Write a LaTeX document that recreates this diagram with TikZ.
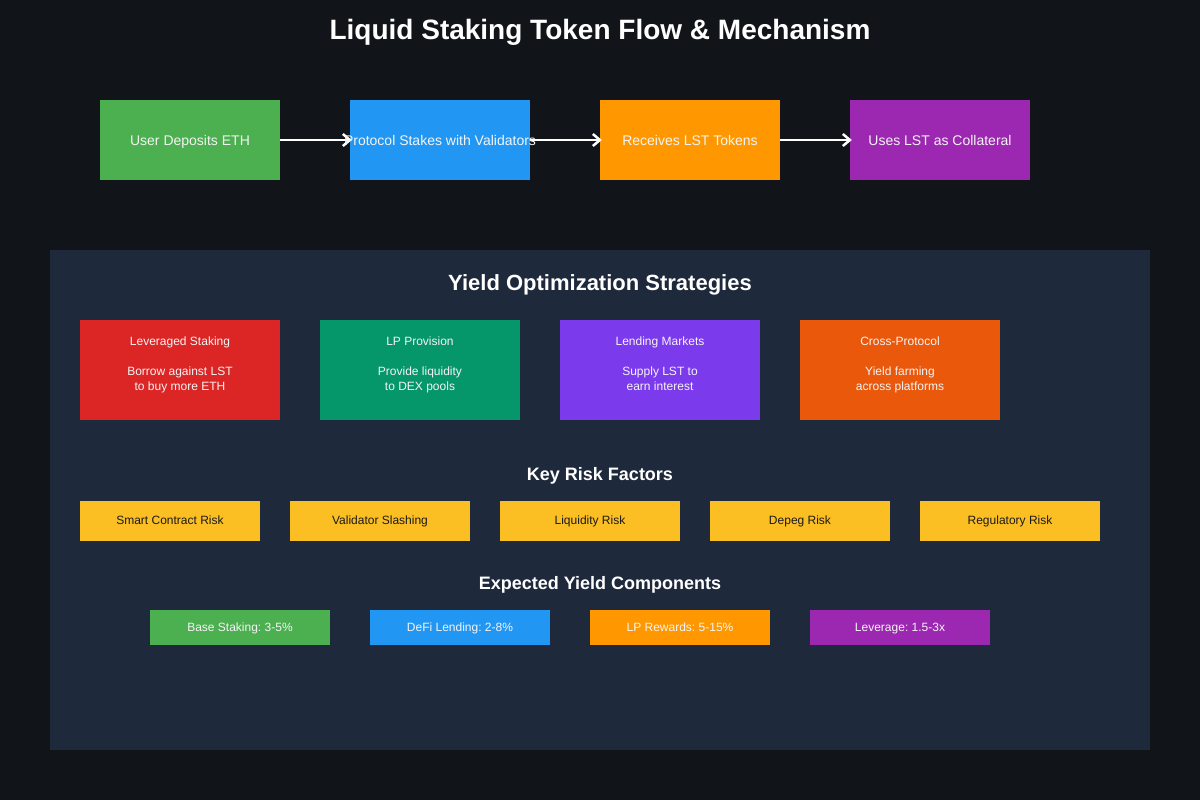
\documentclass[tikz,border=0pt]{standalone}
\usepackage{fontspec}
\setmainfont{Liberation Sans}
\usetikzlibrary{arrows.meta}
\frenchspacing
\definecolor{bgc}{HTML}{111418}
\definecolor{panelc}{HTML}{1E293B}
\definecolor{cgreen}{HTML}{4CAF50}
\definecolor{cblue}{HTML}{2196F3}
\definecolor{corange}{HTML}{FF9800}
\definecolor{cpurple}{HTML}{9C27B0}
\definecolor{sred}{HTML}{DC2626}
\definecolor{sgreen}{HTML}{059669}
\definecolor{spurple}{HTML}{7C3AED}
\definecolor{sorange}{HTML}{EA580C}
\definecolor{ryellow}{HTML}{FBBF24}
\definecolor{rtext}{HTML}{1A1A1A}
\definecolor{wtext}{HTML}{F4F4F4}
\tikzset{
  flowbox/.style={draw=none, minimum width=180pt, minimum height=80pt, inner sep=0pt, text=wtext, text height=10pt, text depth=0pt, font=\fontsize{14}{17}\selectfont},
  stratbox/.style={draw=none, minimum width=200pt, minimum height=100pt, inner sep=0pt},
  strattext/.style={inner sep=0pt, align=center, text=wtext, text depth=3pt, font=\fontsize{12}{15}\selectfont},
  riskbox/.style={draw=none, fill=ryellow, minimum width=180pt, minimum height=40pt, inner sep=0pt, text=rtext, text height=8.6pt, text depth=0pt, font=\fontsize{12}{14}\selectfont},
  yieldbox/.style={draw=none, minimum width=180pt, minimum height=35pt, inner sep=0pt, text=wtext, text height=8.6pt, text depth=0pt, font=\fontsize{12}{14}\selectfont},
  heading/.style={inner sep=0pt, text=white, text height=13pt, text depth=0pt, font=\bfseries\fontsize{18}{22}\selectfont},
  flowarrow/.style={draw=white, line width=2.5pt, -{Straight Barb[length=7pt,width=12pt,line width=2.5pt]}, shorten >=-2pt}
}
\begin{document}
\begin{tikzpicture}[x=1pt,y=-1pt]
\fill[bgc] (0,0) rectangle (1200,800);
\useasboundingbox (0,0) rectangle (1200,800);
\node[inner sep=0pt, text=white, text height=20pt, text depth=0pt, font=\bfseries\fontsize{28}{34}\selectfont] (title) at (600,30) {Liquid Staking Token Flow \& Mechanism};

\node[flowbox, fill=cgreen] (f1) at (190,140) {User Deposits ETH};
\node[flowbox, fill=cblue] (f2) at (440,140) {};
\node[flowbox, fill=corange] (f3) at (690,140) {Receives LST Tokens};
\node[flowbox, fill=cpurple] (f4) at (940,140) {Uses LST as Collateral};
\draw[flowarrow] (f1.east) -- (f2.west);
\draw[flowarrow] (f2.east) -- (f3.west);
\draw[flowarrow] (f3.east) -- (f4.west);
\node[inner sep=0pt, text=wtext, text height=10pt, text depth=0pt, font=\fontsize{14}{17}\selectfont] (f2t) at (440,140) {Protocol Stakes with Validators};

\fill[panelc] (50,250) rectangle (1150,750);
\node[inner sep=0pt, text=white, text height=16pt, text depth=0pt, font=\bfseries\fontsize{22}{26}\selectfont] (h1) at (600,282) {Yield Optimization Strategies};

\node[stratbox, fill=sred] (s1) at (180,370) {};
\node[stratbox, fill=sgreen] (s2) at (420,370) {};
\node[stratbox, fill=spurple] (s3) at (660,370) {};
\node[stratbox, fill=sorange] (s4) at (900,370) {};
\node[strattext] (s1t) at (180,365) {Leveraged Staking\\[15pt]Borrow against LST\\to buy more ETH};
\node[strattext] (s2t) at (420,365) {LP Provision\\[15pt]Provide liquidity\\to DEX pools};
\node[strattext] (s3t) at (660,365) {Lending Markets\\[15pt]Supply LST to\\earn interest};
\node[strattext] (s4t) at (900,365) {Cross-Protocol\\[15pt]Yield farming\\across platforms};

\node[heading] (h2) at (600,473.5) {Key Risk Factors};
\node[riskbox] (r1) at (170,520.5) {Smart Contract Risk};
\node[riskbox] (r2) at (380,520.5) {Validator Slashing};
\node[riskbox] (r3) at (590,520.5) {Liquidity Risk};
\node[riskbox] (r4) at (800,520.5) {Depeg Risk};
\node[riskbox] (r5) at (1010,520.5) {Regulatory Risk};

\node[heading] (h3) at (600,583) {Expected Yield Components};
\node[yieldbox, fill=cgreen] (y1) at (240,627.5) {Base Staking: 3-5\%};
\node[yieldbox, fill=cblue] (y2) at (460,627.5) {DeFi Lending: 2-8\%};
\node[yieldbox, fill=corange] (y3) at (680,627.5) {LP Rewards: 5-15\%};
\node[yieldbox, fill=cpurple] (y4) at (900,627.5) {Leverage: 1.5-3x};
\end{tikzpicture}
\end{document}
